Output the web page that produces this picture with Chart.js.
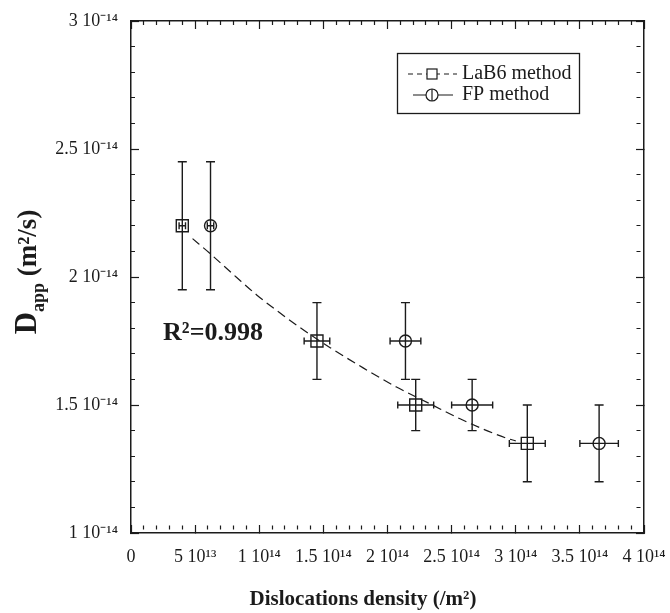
<!DOCTYPE html>
<html>
<head>
<meta charset="utf-8">
<script src="https://cdn.jsdelivr.net/npm/chart.js@4.4.0/dist/chart.umd.min.js"></script>
<style>
  html, body { margin: 0; padding: 0; background: #fff; }
  #wrap { width: 670px; height: 613px; position: relative; }
</style>
</head>
<body>
<div id="wrap"><canvas id="chart"></canvas></div>
<script>
// density in units of 10^14 /m², D_app in units of 10^-14 m²/s
const lab6Rho = [0.40, 1.45, 2.22, 3.09];
const lab6D = [2.2, 1.75, 1.5, 1.35];
const lab6RhoErr = [0.025, 0.10, 0.14, 0.14];
const lab6DErr = [0.25, 0.15, 0.10, 0.15];

const fpRho = [0.62, 2.14, 2.66, 3.65];
const fpD = [2.2, 1.75, 1.5, 1.35];
const fpRhoErr = [0.025, 0.12, 0.16, 0.15];
const fpDErr = [0.25, 0.15, 0.10, 0.15];

// dashed fit curve through the LaB6 points
const fitRho = [0.48, 0.62, 0.82, 0.98, 1.16, 1.34, 1.55, 1.81, 2.07, 2.33, 2.57, 2.93, 3.0];
const fitD = [2.15, 2.09, 2.0, 1.93, 1.86, 1.795, 1.725, 1.645, 1.57, 1.505, 1.445, 1.37, 1.36];

const xTickLabels = ['0', '5 10¹³', '1 10¹⁴', '1.5 10¹⁴', '2 10¹⁴', '2.5 10¹⁴', '3 10¹⁴', '3.5 10¹⁴', '4 10¹⁴'];
const yTickLabels = ['1 10⁻¹⁴', '1.5 10⁻¹⁴', '2 10⁻¹⁴', '2.5 10⁻¹⁴', '3 10⁻¹⁴'];

const ink = '#1b1b1b';
const serif = "'Liberation Serif', 'Times New Roman', serif";

const pts = (xs, ys) => xs.map((x, i) => ({ x: x, y: ys[i] }));

// major ticks every 0.5, minor every 0.1; minor ones drawn shorter with a dash trick
const gridOpts = {
  drawOnChartArea: false,
  drawTicks: true,
  tickLength: -8,
  tickColor: ink,
  tickWidth: 1.2,
  tickBorderDash: (c) => (Math.round(c.tick.value * 10) % 5 === 0 ? [] : [0, 4, 4, 100])
};
const borderOpts = { display: true, color: ink, width: 1.5 };

function axis(pos, min, max, labelFn, size) {
  return {
    type: 'linear',
    position: pos,
    min: min,
    max: max,
    grid: gridOpts,
    border: borderOpts,
    ticks: {
      display: true,
      stepSize: 0.1,
      autoSkip: false,
      maxRotation: 0,
      padding: 21,
      color: ink,
      font: { family: serif, size: 18 },
      callback: labelFn
    },
    afterFit: (s) => {
      if (pos === 'left' || pos === 'right') s.width = size;
      else s.height = size;
      // keep overhanging labels from shrinking the plot area
      s.paddingLeft = 0; s.paddingRight = 0;
      s.paddingTop = 0; s.paddingBottom = 0;
    }
  };
}

const xLabel = (v) => {
  const k = Math.round(v * 10);
  return k % 5 === 0 ? xTickLabels[k / 5] : '';
};
const yLabel = (v) => {
  const k = Math.round(v * 10);
  return k % 5 === 0 ? yTickLabels[(k - 10) / 5] : '';
};
const noLabel = () => '';

function drawErrors(ctx, sx, sy, xs, ys, xe, ye) {
  for (let i = 0; i < xs.length; i++) {
    const px = sx.getPixelForValue(xs[i]);
    const py = sy.getPixelForValue(ys[i]);
    const t = sy.getPixelForValue(ys[i] + ye[i]);
    const b = sy.getPixelForValue(ys[i] - ye[i]);
    ctx.beginPath();
    ctx.moveTo(px, t); ctx.lineTo(px, b);
    ctx.moveTo(px - 4.5, t); ctx.lineTo(px + 4.5, t);
    ctx.moveTo(px - 4.5, b); ctx.lineTo(px + 4.5, b);
    if (xe[i] > 0) {
      const l = sx.getPixelForValue(xs[i] - xe[i]);
      const r = sx.getPixelForValue(xs[i] + xe[i]);
      ctx.moveTo(l, py); ctx.lineTo(r, py);
      ctx.moveTo(l, py - 3.5); ctx.lineTo(l, py + 3.5);
      ctx.moveTo(r, py - 3.5); ctx.lineTo(r, py + 3.5);
    }
    ctx.stroke();
  }
}

const decorPlugin = {
  id: 'decor',
  beforeDatasetsDraw(chart) {
    const ctx = chart.ctx;
    const sx = chart.scales.x, sy = chart.scales.y;
    ctx.save();
    ctx.strokeStyle = ink;
    ctx.lineWidth = 1.4;
    drawErrors(ctx, sx, sy, lab6Rho, lab6D, lab6RhoErr, lab6DErr);
    drawErrors(ctx, sx, sy, fpRho, fpD, fpRhoErr, fpDErr);
    ctx.restore();
  },
  afterDraw(chart) {
    const ctx = chart.ctx;
    const area = chart.chartArea;
    const sx = chart.scales.x, sy = chart.scales.y;
    ctx.save();
    ctx.fillStyle = ink;
    ctx.strokeStyle = ink;

    // x title
    ctx.font = 'bold 21px ' + serif;
    ctx.textAlign = 'center';
    ctx.textBaseline = 'middle';
    ctx.fillText('Dislocations density (/m²)', 363, 600);

    // y title, rotated, with subscript
    ctx.save();
    ctx.translate(25, 272);
    ctx.rotate(-Math.PI / 2);
    ctx.textAlign = 'left';
    ctx.textBaseline = 'alphabetic';
    ctx.font = 'bold 31px ' + serif;
    const wD = ctx.measureText('D').width;
    ctx.font = 'bold 18px ' + serif;
    const wA = ctx.measureText('app').width;
    ctx.font = 'bold 27px ' + serif;
    const wU = ctx.measureText(' (m²/s)').width;
    let x0 = -(wD + wA + wU) / 2;
    ctx.font = 'bold 31px ' + serif;
    ctx.fillText('D', x0, 11);
    ctx.font = 'bold 18px ' + serif;
    ctx.fillText('app', x0 + wD, 19);
    ctx.font = 'bold 27px ' + serif;
    ctx.fillText(' (m²/s)', x0 + wD + wA, 11);
    ctx.restore();

    // R² annotation
    ctx.font = 'bold 26px ' + serif;
    ctx.textAlign = 'left';
    ctx.textBaseline = 'middle';
    ctx.fillText('R²=0.998', sx.getPixelForValue(0.25), sy.getPixelForValue(1.78));

    // legend box
    const lx = area.right - 247, ly = area.top + 32;
    ctx.lineWidth = 1.3;
    ctx.strokeRect(lx + 0.5, ly + 0.5, 182, 60);
    ctx.font = '20px ' + serif;
    ctx.textBaseline = 'middle';
    const r1 = ly + 21, r2 = ly + 42;
    ctx.lineWidth = 1.2;
    ctx.setLineDash([5, 4]);
    ctx.beginPath(); ctx.moveTo(lx + 11, r1); ctx.lineTo(lx + 60, r1); ctx.stroke();
    ctx.setLineDash([]);
    ctx.fillStyle = '#fff';
    ctx.fillRect(lx + 30, r1 - 5, 10, 10);
    ctx.strokeRect(lx + 30, r1 - 5, 10, 10);
    ctx.beginPath(); ctx.moveTo(lx + 16, r2); ctx.lineTo(lx + 56, r2); ctx.stroke();
    ctx.beginPath(); ctx.arc(lx + 35, r2, 6, 0, Math.PI * 2); ctx.fill(); ctx.stroke();
    ctx.beginPath(); ctx.moveTo(lx + 35, r2 - 6); ctx.lineTo(lx + 35, r2 + 6); ctx.stroke();
    ctx.fillStyle = ink;
    ctx.fillText('LaB6 method', lx + 65, r1);
    ctx.fillText('FP method', lx + 65, r2);
    ctx.restore();
  }
};

new Chart(document.getElementById('chart'), {
  type: 'scatter',
  data: {
    datasets: [
      {
        label: 'fit',
        data: pts(fitRho, fitD),
        showLine: true,
        borderColor: ink,
        borderWidth: 1.2,
        borderDash: [9, 5],
        pointRadius: 0,
        cubicInterpolationMode: 'monotone'
      },
      {
        label: 'LaB6 method',
        data: pts(lab6Rho, lab6D),
        pointStyle: 'rect',
        pointRadius: 8.5,
        pointBorderWidth: 1.4,
        borderColor: ink,
        pointBackgroundColor: 'rgba(0,0,0,0)'
      },
      {
        label: 'FP method',
        data: pts(fpRho, fpD),
        pointStyle: 'circle',
        pointRadius: 6,
        pointBorderWidth: 1.4,
        borderColor: ink,
        pointBackgroundColor: 'rgba(0,0,0,0)'
      }
    ]
  },
  options: {
    responsive: true,
    maintainAspectRatio: false,
    animation: false,
    layout: { padding: { left: 0, right: 26, top: 21, bottom: 0 } },
    plugins: { legend: { display: false }, tooltip: { enabled: false } },
    scales: {
      x: axis('bottom', 0, 4, xLabel, 80),
      x2: axis('top', 0, 4, noLabel, 0),
      y: axis('left', 1, 3, yLabel, 131),
      y2: axis('right', 1, 3, noLabel, 0)
    }
  },
  plugins: [decorPlugin]
});
</script>
</body>
</html>
